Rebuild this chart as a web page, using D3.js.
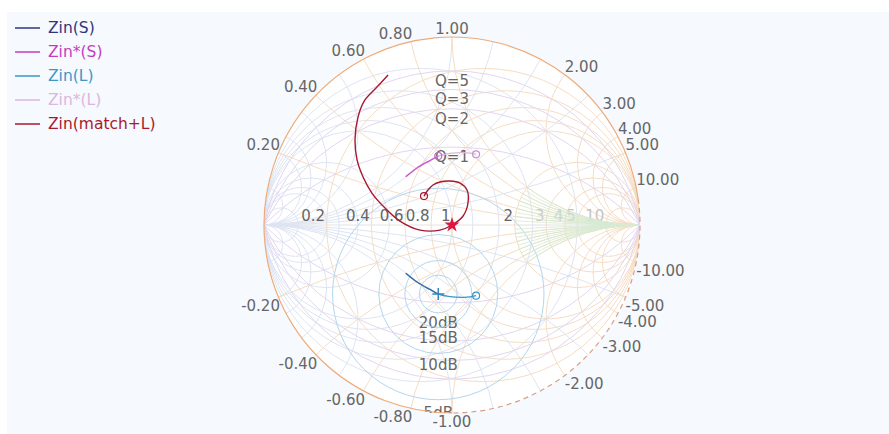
<!DOCTYPE html>
<html>
<head>
<meta charset="utf-8">
<script src="https://cdn.jsdelivr.net/npm/d3@7"></script>
<style>
  html, body { margin: 0; padding: 0; background: #ffffff; }
  svg { display: block; font-family: "DejaVu Sans", Verdana, sans-serif; }
</style>
</head>
<body>
<svg id="chart" width="889" height="434"></svg>
<script>
// ---- Smith chart grid values ----
const gridValues = [0.2, 0.4, 0.6, 0.8, 1, 2, 3, 4, 5, 10];
const realAxisLabels = [0.2, 0.4, 0.6, 0.8, 1, 2, 3, 4, 5, 10];
const reactanceLabels = [0.2, 0.4, 0.6, 0.8, 1, 2, 3, 4, 5, 10];
const fineReactance = [0.1, 0.2, 0.3, 0.4, 0.5, 0.6, 0.7, 0.8, 0.9, 1.0];
const qValues = [5, 3, 2, 1];
const returnLossDb = [20, 15, 10, 5];

// ---- Series: reflection coefficient points [re, im] ----
const seriesNames = ["Zin(S)", "Zin*(S)", "Zin(L)", "Zin*(L)", "Zin(match+L)"];
const seriesColors = ["#2e3580", "#c63cc0", "#3b97c9", "#dcb6e0", "#a8182e"];

const zinS = [[-0.246, -0.257], [-0.188, -0.302], [-0.117, -0.343], [-0.073, -0.367]];
const zinSConj = [[-0.246, 0.257], [-0.188, 0.302], [-0.117, 0.343], [-0.073, 0.367]];
const zinL = [[-0.246, -0.257], [-0.188, -0.302], [-0.117, -0.343], [-0.073, -0.367],
              [-0.011, -0.381], [0.060, -0.385], [0.105, -0.381], [0.128, -0.376]];
const zinLConj = [[-0.246, 0.257], [-0.188, 0.302], [-0.117, 0.343], [-0.073, 0.367],
                  [-0.011, 0.381], [0.060, 0.385], [0.105, 0.381], [0.128, 0.376]];
const zinMatchL = [[-0.340, 0.798], [-0.399, 0.734], [-0.463, 0.665], [-0.500, 0.574],
                   [-0.516, 0.452], [-0.505, 0.346], [-0.473, 0.255], [-0.426, 0.170],
                   [-0.356, 0.090], [-0.277, 0.021], [-0.170, -0.027], [-0.064, -0.027],
                   [0.000, 0.000], [0.059, 0.048], [0.085, 0.117], [0.080, 0.186],
                   [0.043, 0.223], [-0.011, 0.234], [-0.064, 0.229], [-0.101, 0.213],
                   [-0.128, 0.186], [-0.149, 0.154]];

// ---- layout ----
const W = 889, H = 434;
const cx = 452, cy = 225, R = 188;
const sx = d3.scaleLinear().domain([-1, 1]).range([cx - R, cx + R]);
const sy = d3.scaleLinear().domain([-1, 1]).range([cy + R, cy - R]);
const sr = v => sx(v) - sx(0);

const svg = d3.select("#chart");
const labelColor = "#666";
const fontSize = 15;

// panel background
svg.append("rect").attr("x", 7).attr("y", 12).attr("width", W - 7).attr("height", H - 12)
  .attr("fill", "#f6f9fd");

const defs = svg.append("defs");
defs.append("clipPath").attr("id", "unit")
  .append("circle").attr("cx", sx(0)).attr("cy", sy(0)).attr("r", sr(1));
defs.append("clipPath").attr("id", "highR")
  .append("circle").attr("cx", sx(2 / 3)).attr("cy", sy(0)).attr("r", sr(1 / 3));
defs.append("clipPath").attr("id", "box")
  .append("rect").attr("x", sx(-1)).attr("y", sy(1)).attr("width", sr(2)).attr("height", sr(2));

svg.append("circle").attr("cx", sx(0)).attr("cy", sy(0)).attr("r", sr(1)).attr("fill", "#ffffff");

const grid = svg.append("g").attr("clip-path", "url(#unit)").attr("fill", "none");

// real axis
grid.append("line").attr("x1", sx(-1)).attr("x2", sx(1)).attr("y1", sy(0)).attr("y2", sy(0))
  .attr("stroke", "#e2e2e2");

// admittance grid (constant g circles, constant b arcs)
const admColor = "#dde4f2";
gridValues.forEach(g => {
  grid.append("circle").attr("cx", sx(-g / (1 + g))).attr("cy", sy(0)).attr("r", sr(1 / (1 + g)))
    .attr("stroke", admColor);
  [1, -1].forEach(s => {
    grid.append("circle").attr("cx", sx(-1)).attr("cy", sy(s / g)).attr("r", sr(1 / g))
      .attr("stroke", admColor);
  });
});

// impedance grid (constant r circles, constant x arcs)
const impColor = "#f5ddc4";
gridValues.forEach(r => {
  grid.append("circle").attr("cx", sx(r / (1 + r))).attr("cy", sy(0)).attr("r", sr(1 / (1 + r)))
    .attr("stroke", impColor);
  [1, -1].forEach(s => {
    grid.append("circle").attr("cx", sx(1)).attr("cy", sy(s / r)).attr("r", sr(1 / r))
      .attr("stroke", impColor);
  });
});

// constant-Q arcs
qValues.forEach(q => {
  [1, -1].forEach(s => {
    grid.append("circle").attr("cx", sx(0)).attr("cy", sy(s / q)).attr("r", sr(Math.sqrt(1 + 1 / (q * q))))
      .attr("stroke", "#e2d6f0");
  });
});

// return-loss circles around the load point (labels clipped to the chart box)
const rlCenter = zinL[3];
const rlGroup = svg.append("g").attr("clip-path", "url(#box)");
returnLossDb.forEach(db => {
  const rho = Math.pow(10, -db / 20);
  rlGroup.append("circle").attr("cx", sx(rlCenter[0])).attr("cy", sy(rlCenter[1])).attr("r", sr(rho))
    .attr("fill", "none").attr("stroke", "#b4d6ee").attr("stroke-width", 1);
  rlGroup.append("text").attr("x", sx(rlCenter[0])).attr("y", sy(rlCenter[1] - rho) + 14 + 8 * rho)
    .attr("text-anchor", "middle").attr("font-size", fontSize).attr("fill", labelColor)
    .text(db + "dB");
});

// unit circle: solid on most of the rim, dashed on the lower-right quarter
const rim = svg.append("g").attr("fill", "none");
const deg = Math.PI / 180;
const solid = d3.path();
solid.arc(sx(0), sy(0), sr(1), 90 * deg, 352 * deg, false);
rim.append("path").attr("d", solid.toString()).attr("stroke", "#eeab78").attr("stroke-width", 1.2);
const dashed = d3.path();
dashed.arc(sx(0), sy(0), sr(1), -8 * deg, 90 * deg, false);
rim.append("path").attr("d", dashed.toString()).attr("stroke", "#d8a088")
  .attr("stroke-width", 1.2).attr("stroke-dasharray", "5,4");

// real-axis resistance labels
realAxisLabels.forEach(r => {
  svg.append("text").attr("x", sx((r - 1) / (r + 1)) - 1.5).attr("y", sy(0) - 4)
    .attr("text-anchor", "end").attr("font-size", fontSize)
    .attr("fill", r > 2 ? "#c4c4c4" : labelColor).text(r);
});

// dense reactance lines near the open-circuit end
const fine = svg.append("g").attr("clip-path", "url(#highR)").attr("fill", "none");
fineReactance.forEach(v => {
  [1, -1].forEach(s => {
    fine.append("circle").attr("cx", sx(1)).attr("cy", sy(s / v)).attr("r", sr(1 / v))
      .attr("stroke", "#d6ebd3").attr("stroke-opacity", 0.85);
  });
});

// reactance labels around the rim
reactanceLabels.forEach(v => {
  [v, -v].forEach(xv => {
    const d = xv * xv + 1;
    const gr = (xv * xv - 1) / d, gi = 2 * xv / d;
    const px = sx(gr), py = sy(gi);
    const anchor = Math.abs(gr) < 0.05 ? "middle" : (gr < 0 ? "end" : "start");
    svg.append("text")
      .attr("x", px + (anchor === "end" ? 1.5 : 0))
      .attr("y", xv > 0 ? py - 3 : py + 14)
      .attr("text-anchor", anchor).attr("font-size", fontSize).attr("fill", labelColor)
      .text(xv.toFixed(2));
  });
});

// Q labels
qValues.forEach(q => {
  const top = -1 / q + Math.sqrt(1 + 1 / (q * q));
  svg.append("text").attr("x", sx(0)).attr("y", sy(top) + 15)
    .attr("text-anchor", "middle").attr("font-size", fontSize).attr("fill", labelColor)
    .text("Q=" + q);
});

// ---- curves ----
const line = d3.line().x(d => sx(d[0])).y(d => sy(d[1])).curve(d3.curveCatmullRom);
const curves = svg.append("g").attr("fill", "none").attr("stroke-width", 1.4);

function drawSeries(pts, color, opacity) {
  curves.append("path").attr("d", line(pts)).attr("stroke", color).attr("stroke-opacity", opacity);
}
drawSeries(zinLConj, seriesColors[3], 1);
drawSeries(zinSConj, seriesColors[1], 0.75);
drawSeries(zinL, seriesColors[2], 1);
drawSeries(zinS, seriesColors[0], 0.45);
drawSeries(zinMatchL, seriesColors[4], 1);

function endCircle(p, color) {
  svg.append("circle").attr("cx", sx(p[0])).attr("cy", sy(p[1])).attr("r", 3.5)
    .attr("fill", "none").attr("stroke", color).attr("stroke-width", 1.2);
}
function cross(p, color) {
  const s = 6;
  const g = svg.append("g").attr("stroke", color).attr("stroke-width", 1.5);
  g.append("line").attr("x1", sx(p[0]) - s).attr("x2", sx(p[0]) + s).attr("y1", sy(p[1])).attr("y2", sy(p[1]));
  g.append("line").attr("x1", sx(p[0])).attr("x2", sx(p[0])).attr("y1", sy(p[1]) - s).attr("y2", sy(p[1]) + s);
}
endCircle(zinLConj[zinLConj.length - 1], "#c98fd6");
endCircle(zinSConj[zinSConj.length - 1], "#b66cc8");
endCircle(zinL[zinL.length - 1], "#3b97c9");
cross(zinS[zinS.length - 1], "#2f86b8");
endCircle(zinMatchL[zinMatchL.length - 1], "#a8182e");
svg.append("path")
  .attr("d", d3.symbol().type(d3.symbolStar).size(70)())
  .attr("transform", `translate(${sx(zinMatchL[12][0])},${sy(zinMatchL[12][1])})`)
  .attr("fill", "#e0163e");

// ---- legend ----
const legend = svg.append("g");
seriesNames.forEach((name, i) => {
  const y = 28 + i * 24;
  legend.append("line").attr("x1", 15).attr("x2", 40).attr("y1", y).attr("y2", y)
    .attr("stroke", seriesColors[i]).attr("stroke-width", 1.5);
  legend.append("text").attr("x", 48).attr("y", y + 5).attr("font-size", 15.5)
    .attr("fill", seriesColors[i]).text(name);
});
</script>
</body>
</html>
